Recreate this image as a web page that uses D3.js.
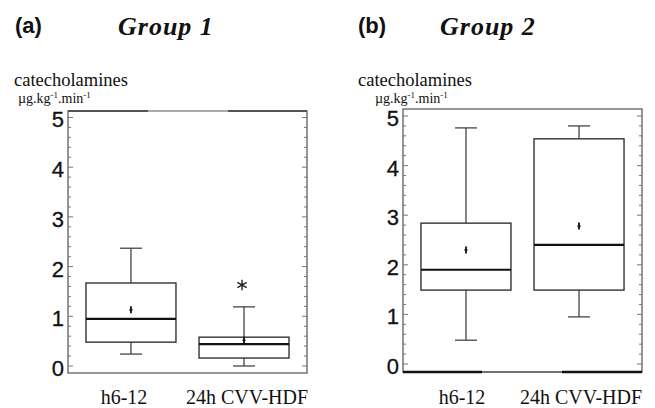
<!DOCTYPE html>
<html>
<head>
<meta charset="utf-8">
<script src="https://cdn.jsdelivr.net/npm/d3@7"></script>
<style>
  body { margin: 0; background: #fff; }
  svg { display: block; }
</style>
</head>
<body>
<svg id="chart" width="655" height="408"></svg>
<script>
// categories on the x axis
const categories = ["h6-12", "24h CVV-HDF"];
const yTicks = [0, 1, 2, 3, 4, 5];

// Group 1 box statistics (one value per category)
const g1Low    = [0.24, 0.00];
const g1Q1     = [0.48, 0.16];
const g1Median = [0.95, 0.44];
const g1Q3     = [1.67, 0.58];
const g1High   = [2.37, 1.19];
const g1Mean   = [1.13, 0.52];
const g1Outliers = [{ cat: "24h CVV-HDF", value: 1.63 }];

// Group 2 box statistics
const g2Low    = [0.48, 0.95];
const g2Q1     = [1.49, 1.49];
const g2Median = [1.90, 2.40];
const g2Q3     = [2.84, 4.54];
const g2High   = [4.76, 4.80];
const g2Mean   = [2.30, 2.78];
const g2Outliers = [];

function buildBoxes(low, q1, med, q3, high, mean) {
    return categories.map((c, i) => ({
        cat: c, low: low[i], q1: q1[i], median: med[i], q3: q3[i], high: high[i], mean: mean[i]
    }));
}

const svg = d3.select("#chart");

/** draws one panel: frame, axis, boxes, titles */
function drawPanel(p) {
    let g = svg.append("g");

    let y = d3.scaleLinear().domain([0, 5]).range([p.y0, p.y5]);
    let x = d3.scalePoint().domain(categories).range([p.left, p.right]).padding(0.557);

    // frame
    g.append("rect")
        .attr("x", p.left).attr("y", p.top)
        .attr("width", p.right - p.left).attr("height", p.bottom - p.top)
        .attr("fill", "none").attr("stroke", "#6a6a6a").attr("stroke-width", 1.4);

    // scan-like heavier segments on the frame
    p.heavy.forEach(s => {
        g.append("line")
            .attr("x1", s[0]).attr("x2", s[1])
            .attr("y1", s[2]).attr("y2", s[2])
            .attr("stroke", s[3]).attr("stroke-width", s[4]);
    });

    // minor + major ticks (inward, both sides)
    let minor = d3.range(0, 5.01, 0.2);
    [p.left, p.right].forEach((xx, side) => {
        let dir = side === 0 ? 1 : -1;
        g.selectAll(null).data(minor).enter().append("line")
            .attr("x1", xx).attr("x2", d => xx + dir * (Math.abs(d - Math.round(d)) < 0.01 ? 5 : 3))
            .attr("y1", d => y(d)).attr("y2", d => y(d))
            .attr("stroke", "#777").attr("stroke-width", 1);
    });

    // tick labels
    g.selectAll(null).data(yTicks).enter().append("text")
        .attr("x", p.left - 4).attr("y", d => y(d) + 2)
        .attr("dy", "0.36em")
        .attr("text-anchor", "end")
        .style("font-family", "'Liberation Sans', Arial, sans-serif")
        .style("font-size", "22px")
        .style("fill", "#111")
        .style("stroke", "#111").style("stroke-width", 0.3)
        .text(d => d);

    let boxW = 90, capW = 22;
    let boxes = g.selectAll(null).data(p.boxes).enter().append("g");

    // whiskers
    boxes.append("line")
        .attr("x1", d => x(d.cat)).attr("x2", d => x(d.cat))
        .attr("y1", d => y(d.q3)).attr("y2", d => y(d.high))
        .attr("stroke", "#444").attr("stroke-width", 1.3);
    boxes.append("line")
        .attr("x1", d => x(d.cat)).attr("x2", d => x(d.cat))
        .attr("y1", d => y(d.q1)).attr("y2", d => y(d.low))
        .attr("stroke", "#444").attr("stroke-width", 1.3);
    [["high"], ["low"]].forEach(k => {
        boxes.append("line")
            .attr("x1", d => x(d.cat) - capW / 2).attr("x2", d => x(d.cat) + capW / 2)
            .attr("y1", d => y(d[k[0]])).attr("y2", d => y(d[k[0]]))
            .attr("stroke", "#444").attr("stroke-width", 1.3);
    });

    // box
    boxes.append("rect")
        .attr("x", d => x(d.cat) - boxW / 2)
        .attr("y", d => y(d.q3))
        .attr("width", boxW)
        .attr("height", d => y(d.q1) - y(d.q3))
        .attr("fill", "none").attr("stroke", "#333").attr("stroke-width", 1.4);

    // median
    boxes.append("line")
        .attr("x1", d => x(d.cat) - boxW / 2).attr("x2", d => x(d.cat) + boxW / 2)
        .attr("y1", d => y(d.median)).attr("y2", d => y(d.median))
        .attr("stroke", "#111").attr("stroke-width", 2.2);

    // mean marker
    boxes.append("line")
        .attr("x1", d => x(d.cat)).attr("x2", d => x(d.cat))
        .attr("y1", d => y(d.mean) - 3.5).attr("y2", d => y(d.mean) + 3.5)
        .attr("stroke", "#111").attr("stroke-width", 1.8);
    boxes.append("line")
        .attr("x1", d => x(d.cat) - 1.8).attr("x2", d => x(d.cat) + 1.8)
        .attr("y1", d => y(d.mean)).attr("y2", d => y(d.mean))
        .attr("stroke", "#111").attr("stroke-width", 1);

    // outliers drawn as asterisks
    g.selectAll(null).data(p.outliers).enter().append("path")
        .attr("transform", d => `translate(${x(d.cat) - 2},${y(d.value)})`)
        .attr("d", d3.symbol().type(d3.symbolAsterisk).size(80))
        .attr("fill", "none").attr("stroke", "#222").attr("stroke-width", 1.4);

    // category labels
    g.selectAll(null).data(categories).enter().append("text")
        .attr("x", (d, i) => x(d) + p.labelShift[i]).attr("y", 404)
        .attr("text-anchor", "middle")
        .style("font-family", "'Liberation Serif', 'Times New Roman', serif")
        .style("font-size", "20px")
        .style("fill", "#111")
        .text(d => d);

    // y-axis title
    g.append("text")
        .attr("x", p.labelX).attr("y", 86)
        .style("font-family", "'Liberation Serif', 'Times New Roman', serif")
        .style("font-size", "18.5px").style("fill", "#111")
        .text("catecholamines");
    let unit = g.append("text")
        .attr("x", p.labelX + p.unitDx).attr("y", 103)
        .style("font-family", "'Liberation Serif', 'Times New Roman', serif")
        .style("font-size", "14px").style("fill", "#111");
    unit.append("tspan").text("µg.kg");
    unit.append("tspan").attr("dy", -5).style("font-size", "9px").text("-1");
    unit.append("tspan").attr("dy", 5).text(".min");
    unit.append("tspan").attr("dy", -5).style("font-size", "9px").text("-1");

    // panel letter and group title
    g.append("text")
        .attr("x", p.letterX).attr("y", 33)
        .style("font-family", "'Liberation Sans', Arial, sans-serif")
        .style("font-weight", "bold").style("font-size", "22px").style("fill", "#111")
        .text(p.letter);
    g.append("text")
        .attr("x", p.titleX).attr("y", 35)
        .style("font-family", "'Liberation Serif', 'Times New Roman', serif")
        .style("font-weight", "bold").style("font-style", "italic")
        .style("font-size", "26px").style("letter-spacing", "1px").style("fill", "#111")
        .text(p.title);
}

drawPanel({
    left: 68, right: 307, top: 111, bottom: 373, y0: 366, y5: 117.5,
    boxes: buildBoxes(g1Low, g1Q1, g1Median, g1Q3, g1High, g1Mean),
    outliers: g1Outliers,
    heavy: [[68, 148, 111, "#555", 2], [148, 228, 111, "#aaa", 2], [228, 307, 111, "#555", 2]],
    labelShift: [-7, 3],
    labelX: 14, unitDx: 4,
    letter: "(a)", letterX: 15, title: "Group 1", titleX: 118
});

drawPanel({
    left: 403, right: 642, top: 109, bottom: 372, y0: 364, y5: 116,
    boxes: buildBoxes(g2Low, g2Q1, g2Median, g2Q3, g2High, g2Mean),
    outliers: g2Outliers,
    heavy: [[403, 482, 372, "#111", 2.6], [482, 562, 372, "#666", 1.6], [562, 642, 372, "#111", 2.6]],
    labelShift: [-4, 2],
    labelX: 358, unitDx: 17,
    letter: "(b)", letterX: 358, title: "Group 2", titleX: 440
});
</script>
</body>
</html>
